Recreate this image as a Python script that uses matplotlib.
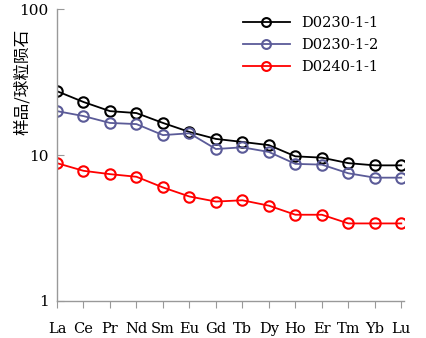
import matplotlib
matplotlib.use("Agg")
import matplotlib.pyplot as plt
from matplotlib.ticker import FixedLocator, NullLocator, FixedFormatter

# === Data (chondrite-normalised REE) ===
elements = ["La", "Ce", "Pr", "Nd", "Sm", "Eu", "Gd", "Tb", "Dy", "Ho", "Er", "Tm", "Yb", "Lu"]
d0230_1_1 = [27.4, 23.1, 20.0, 19.4, 16.6, 14.4, 12.9, 12.3, 11.7, 9.8, 9.6, 8.8, 8.5, 8.5]
d0230_1_2 = [20.0, 18.5, 16.6, 16.3, 13.7, 14.1, 11.0, 11.3, 10.5, 8.7, 8.6, 7.5, 7.0, 7.0]
d0240_1_1 = [8.8, 7.8, 7.4, 7.1, 6.0, 5.2, 4.8, 4.9, 4.5, 3.9, 3.9, 3.4, 3.4, 3.4]

series = [("D0230-1-1", d0230_1_1, "black"),
          ("D0230-1-2", d0230_1_2, "#5b5b98"),
          ("D0240-1-1", d0240_1_1, "red")]

serif = ["DejaVu Serif"]
cjk = ["Noto Sans CJK SC", "DejaVu Sans"]

fig = plt.figure(figsize=(4.27, 3.38), dpi=100)
ax = fig.add_axes([0.1335, 0.1095, 0.946 - 0.1335, 0.973 - 0.1095])

x = list(range(len(elements)))
for name, vals, col in series:
    ax.plot(x, vals, color=col, lw=1.3, marker="o", ms=7.5,
            mfc="none", mec=col, mew=1.5, label=name)

ax.set_yscale("log")
ax.set_ylim(1, 100)
ax.set_xlim(0, 13.1)
ax.yaxis.set_major_locator(FixedLocator([1, 10, 100]))
ax.yaxis.set_major_formatter(FixedFormatter(["1", "10", "100"]))
ax.yaxis.set_minor_locator(NullLocator())
ax.set_xticks(x)
ax.set_xticklabels(elements, fontfamily=serif, fontsize=10.5)
for lab in ax.get_yticklabels():
    lab.set_fontfamily(serif)
    lab.set_fontsize(11)

ax.tick_params(axis="y", direction="in", length=5, color="#999999", pad=6)
ax.tick_params(axis="x", direction="out", length=5, color="#999999", pad=10)

for s in ["top", "right"]:
    ax.spines[s].set_visible(False)
for s in ["left", "bottom"]:
    ax.spines[s].set_color("#999999")
    ax.spines[s].set_linewidth(1.0)

ax.set_ylabel("样品/球粒陨石", fontfamily=cjk, fontsize=12)
ax.yaxis.set_label_coords(-0.075, 0.75)

leg = ax.legend(loc="upper right", bbox_to_anchor=(0.965, 1.02), frameon=False,
                numpoints=1, handlelength=3.2, labelspacing=0.55,
                markerscale=0.85, prop={"family": serif, "size": 10.5})

fig.savefig("out.png", dpi=100)
